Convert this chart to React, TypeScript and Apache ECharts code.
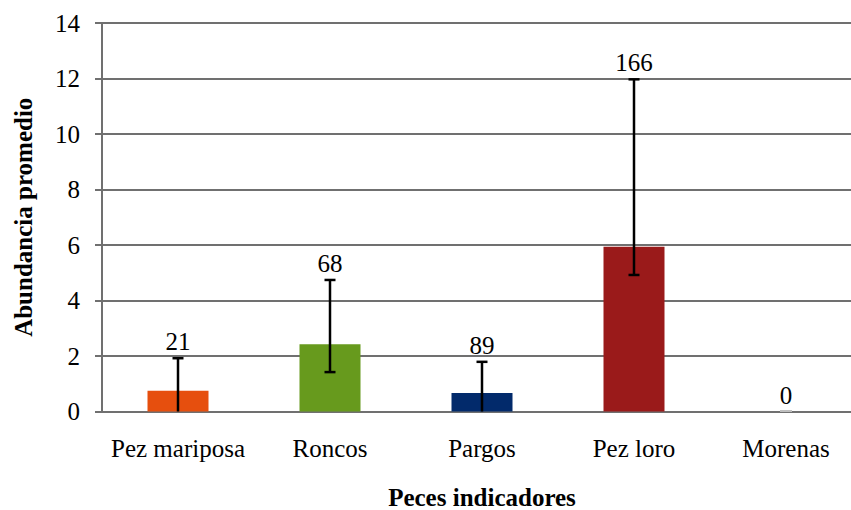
import React, { useEffect, useRef } from "react";
import * as echarts from "echarts";

const categories = ["Pez mariposa", "Roncos", "Pargos", "Pez loro", "Morenas"];
const means = [0.75, 2.42, 0.67, 5.94, 0];
const errLow = [0, 1.42, 0, 4.92, 0];
const errHigh = [1.92, 4.74, 1.79, 11.97, 0];
const counts = [21, 68, 89, 166, 0];
const colors = ["#E64F0E", "#679A1D", "#022A6B", "#9A1A1A", "#BFBFBF"];
const yTicks = { min: 0, max: 14, interval: 2 };

const FONT = "'Liberation Serif', 'Times New Roman', serif";

export default function App() {
  const ref = useRef<HTMLDivElement>(null);
  useEffect(() => {
    document.body.style.margin = "0";
    document.documentElement.style.overflow = "hidden";
    document.body.style.overflow = "hidden";
    if (!ref.current) return;
    const chart = echarts.init(ref.current, null, { renderer: "svg" });
    const errData = categories.map((_, i) => [i, errLow[i], errHigh[i], counts[i]]);
    chart.setOption({
      animation: false,
      backgroundColor: "#ffffff",
      grid: {
        left: 102,
        top: 23,
        width: 760,
        height: 388.5,
        containLabel: false,
        outerBoundsMode: "none",
      },
      xAxis: {
        type: "category",
        data: categories,
        name: "Peces indicadores",
        nameLocation: "middle",
        nameGap: 73,
        nameTextStyle: { fontFamily: FONT, fontSize: 25, fontWeight: "bold", color: "#000" },
        axisLine: { lineStyle: { color: "#707070", width: 2 } },
        axisTick: { show: false },
        axisLabel: { fontFamily: FONT, fontSize: 25, color: "#000", margin: 24, interval: 0 },
      },
      yAxis: {
        type: "value",
        min: yTicks.min,
        max: yTicks.max,
        interval: yTicks.interval,
        name: "Abundancia promedio",
        nameLocation: "middle",
        nameGap: 66,
        nameTextStyle: { fontFamily: FONT, fontSize: 25, fontWeight: "bold", color: "#000" },
        axisLine: { show: true, lineStyle: { color: "#707070", width: 2 } },
        axisTick: { show: true, length: 7, lineStyle: { color: "#707070", width: 2 } },
        axisLabel: { fontFamily: FONT, fontSize: 25, color: "#000", margin: 22 },
        splitLine: { show: true, lineStyle: { color: "#707070", width: 2 } },
      },
      series: [
        {
          type: "bar",
          data: means.map((v, i) => ({ value: v, itemStyle: { color: colors[i] } })),
          barWidth: 61,
          z: 2,
        },
        {
          type: "custom",
          data: errData,
          z: 3,
          renderItem: (params: any, api: any) => {
            const idx = api.value(0);
            const lo = api.value(1);
            const hi = api.value(2);
            const cnt = api.value(3);
            const x = api.coord([idx, 0])[0];
            const yLo = api.coord([idx, lo])[1];
            const yHi = api.coord([idx, hi])[1];
            const children: any[] = [];
            const stroke = { stroke: "#000", lineWidth: 2.5 };
            if (hi > lo) {
              children.push({ type: "line", shape: { x1: x, y1: yLo, x2: x, y2: yHi }, style: stroke });
              children.push({ type: "line", shape: { x1: x - 5.5, y1: yHi, x2: x + 5.5, y2: yHi }, style: stroke });
              if (lo > 0) {
                children.push({ type: "line", shape: { x1: x - 5.5, y1: yLo, x2: x + 5.5, y2: yLo }, style: stroke });
              }
            } else {
              children.push({ type: "line", shape: { x1: x - 6, y1: yHi - 0.5, x2: x + 6, y2: yHi - 0.5 }, style: { stroke: "#BFBFBF", lineWidth: 2 } });
            }
            const yTop = Math.min(yHi, api.coord([idx, means[idx]])[1]);
            children.push({
              type: "text",
              x: x,
              y: yTop - 4,
              style: {
                text: String(cnt),
                fontFamily: FONT,
                fontSize: 25,
                fill: "#000",
                align: "center",
                verticalAlign: "bottom",
              },
            });
            return { type: "group", children };
          },
        },
      ],
    });
    return () => chart.dispose();
  }, []);
  return <div ref={ref} style={{ width: 851, height: 510, overflow: "hidden" }} />;
}
